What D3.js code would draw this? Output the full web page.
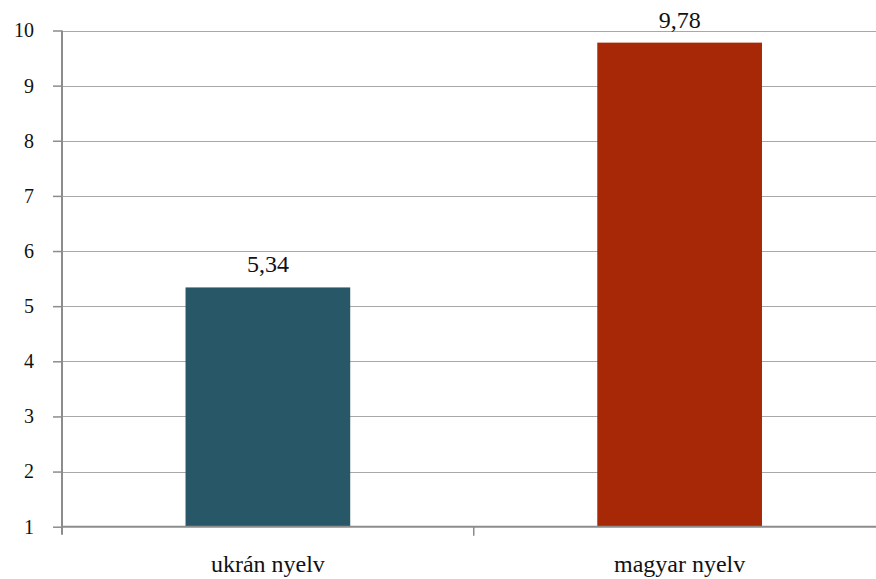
<!DOCTYPE html>
<html><head><meta charset="utf-8">
<script src="https://cdn.jsdelivr.net/npm/d3@7"></script>
<style>html,body{margin:0;padding:0;background:#fff;overflow:hidden;} svg{display:block;}</style>
</head><body>
<svg id="c" width="876" height="579"></svg>
<script>
const categories = ["ukrán nyelv", "magyar nyelv"];
const values = [5.34, 9.78];
const valueLabels = ["5,34", "9,78"];
const yTicks = [1, 2, 3, 4, 5, 6, 7, 8, 9, 10];
const colors = ["#285868", "#a62806"];

(function () {
const svg = d3.select("#c");
const font = "Liberation Serif, DejaVu Serif, serif";
const mLeft = 62, mRight = 885.5, mTop = 30.5, mBottom = 526.7;

const x = d3.scaleBand().domain(categories).range([mLeft, mRight]).paddingInner(0).paddingOuter(0);
const y = d3.scaleLinear().domain([1, 10]).range([mBottom, mTop]);

svg.append("g").selectAll("line").data(yTicks.filter(t => t > 1)).join("line")
  .attr("x1", mLeft).attr("x2", 900)
  .attr("y1", d => Math.round(y(d)) + 0.5).attr("y2", d => Math.round(y(d)) + 0.5)
  .attr("stroke", "#a8a8a8").attr("stroke-width", 1);

const bw = x.bandwidth() * 0.4;
svg.append("g").selectAll("rect").data(values).join("rect")
  .attr("x", (d, i) => x(categories[i]) + (x.bandwidth() - bw) / 2)
  .attr("width", bw)
  .attr("y", d => y(d))
  .attr("height", d => y(1) - y(d))
  .attr("fill", (d, i) => colors[i]);

svg.append("g").selectAll("text").data(values).join("text")
  .attr("x", (d, i) => x(categories[i]) + x.bandwidth() / 2)
  .attr("y", d => y(d) - 15)
  .attr("text-anchor", "middle")
  .attr("font-family", font).attr("font-size", 24).attr("fill", "#111")
  .text((d, i) => valueLabels[i]);

const yAxis = d3.axisLeft(y).tickValues(yTicks).tickSize(9).tickPadding(19).tickFormat(d3.format("d"));
const ga = svg.append("g").attr("transform", `translate(${mLeft},0)`).call(yAxis);
ga.select(".domain").attr("stroke", "#8c8c8c").attr("stroke-width", 2)
  .attr("d", `M0,${mTop}V${mBottom + 8}`);
ga.selectAll(".tick line").attr("stroke", "#8c8c8c").attr("stroke-width", 1.5);
ga.selectAll(".tick text").attr("font-family", font).attr("font-size", 20).attr("fill", "#111");

const xAxis = d3.axisBottom(x).tickSize(0).tickPadding(28);
const gx = svg.append("g").attr("transform", `translate(0,${mBottom})`).call(xAxis);
gx.selectAll(".tick line").remove();
gx.select(".domain").attr("stroke", "#8c8c8c").attr("stroke-width", 2).attr("d", `M${mLeft},0H900`);
gx.selectAll(".tick text").attr("font-family", font).attr("font-size", 24).attr("fill", "#111");
svg.append("g").selectAll("line").data(categories.slice(1)).join("line")
  .attr("x1", d => x(d)).attr("x2", d => x(d))
  .attr("y1", mBottom).attr("y2", mBottom + 9)
  .attr("stroke", "#8c8c8c").attr("stroke-width", 1.5);
})();
</script>
</body></html>
